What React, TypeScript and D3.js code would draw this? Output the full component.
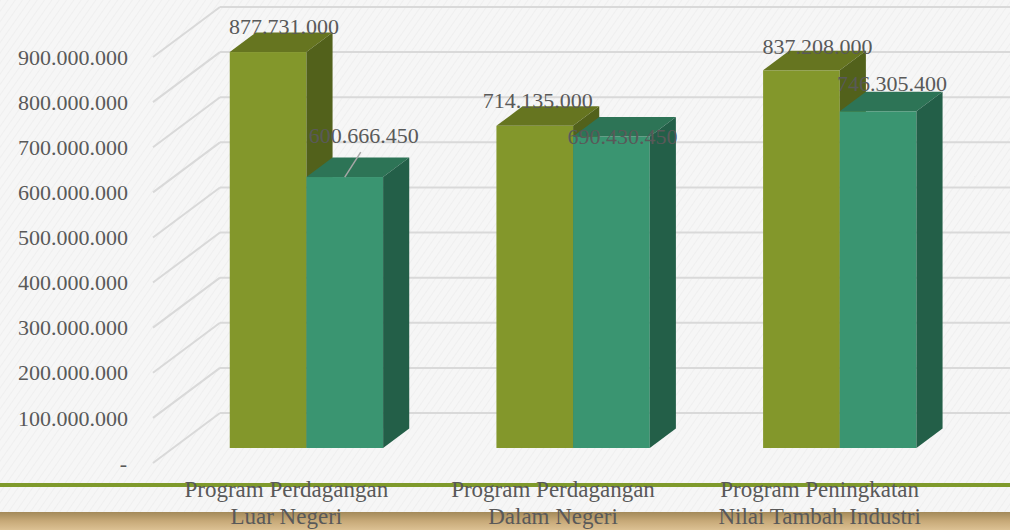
import React from 'react';
import * as d3 from 'd3';

// chart values
const categories = [
  ['Program Perdagangan', 'Luar Negeri'],
  ['Program Perdagangan', 'Dalam Negeri'],
  ['Program Peningkatan', 'Nilai Tambah Industri'],
];
const seriesA = [877731000, 714135000, 837208000];
const seriesB = [600666450, 690430450, 746305400];
const yTicks = [0, 100000000, 200000000, 300000000, 400000000, 500000000, 600000000, 700000000, 800000000, 900000000];

// manual label nudges (dx, dy from bar front centre / top), like the source chart
const nudgeA = [[16, -26], [3, -26], [16, -24]];
const nudgeB = [[19, -42], [11, 0], [14, -28]];

const W = 1010;
const H = 530;
const depth = { x: 67, y: -50 }; // floor depth
const barFront = 0.3; // bars sit at 30%..69% of depth
const barBack = 0.69;

const fmt = (v: number) => (v === 0 ? '-' : d3.format(',')(v).replace(/,/g, '.'));

const App = () => {
  const x = d3.scaleBand().domain(categories.map((c) => c.join(' '))).range([153, 953]).padding(0);
  const y = d3.scaleLinear().domain([0, 900000000]).range([463, 57]);

  const bw = x.bandwidth() * 0.2875; // single bar width
  const f0 = { x: depth.x * barFront, y: depth.y * barFront };
  const dd = { x: depth.x * (barBack - barFront), y: depth.y * (barBack - barFront) };

  const textColor = '#595959';
  const font = "'Liberation Serif', 'Times New Roman', serif";

  const bars: any[] = [];
  const labels: any[] = [];
  categories.forEach((c, i) => {
    const key = c.join(' ');
    const center = (x(key) as number) + x.bandwidth() / 2 + f0.x;
    [
      { v: seriesA[i], n: nudgeA[i], front: '#83972b', top: '#667520', side: '#52611b', x0: center - bw },
      { v: seriesB[i], n: nudgeB[i], front: '#3a9571', top: '#2d7456', side: '#235f48', x0: center },
    ].forEach((b, j) => {
      const x0 = b.x0;
      const x1 = x0 + bw;
      const yt = y(b.v) + f0.y;
      const yb = y(0) + f0.y;
      bars.push(
        <g key={`b${i}-${j}`}>
          <rect x={x0} y={yt} width={bw} height={yb - yt} fill={b.front} />
          <polygon
            points={`${x0},${yt} ${x1},${yt} ${x1 + dd.x},${yt + dd.y} ${x0 + dd.x},${yt + dd.y}`}
            fill={b.top}
          />
          <polygon
            points={`${x1},${yt} ${x1 + dd.x},${yt + dd.y} ${x1 + dd.x},${yb + dd.y} ${x1},${yb}`}
            fill={b.side}
          />
        </g>
      );
      const lx = x0 + bw / 2 + b.n[0];
      const ly = yt + b.n[1];
      if (b.n[1] < -35) {
        labels.push(
          <line key={`l${i}-${j}`} x1={x0 + bw / 2} y1={yt} x2={lx - 3} y2={ly + 17} stroke="#a6a6a6" strokeWidth={1.5} />
        );
      }
      labels.push(
        <text key={`t${i}-${j}`} x={lx} y={ly} dy="0.35em" textAnchor="middle" fontSize={22} fill={textColor} fontFamily={font}>
          {fmt(b.v)}
        </text>
      );
    });
  });

  return (
    <svg width={W} height={H} style={{ position: 'absolute', left: 0, top: 0 }}>
      <defs>
        <pattern id="tex" width="6" height="6" patternUnits="userSpaceOnUse" patternTransform="rotate(35)">
          <rect width="6" height="6" fill="#f6f6f6" />
          <line x1="0" y1="0" x2="0" y2="6" stroke="#efefef" strokeWidth="2" />
        </pattern>
        <linearGradient id="wood" x1="0" y1="0" x2="0" y2="1">
          <stop offset="0" stopColor="#a38a5a" />
          <stop offset="0.5" stopColor="#c7a978" />
          <stop offset="1" stopColor="#dcc193" />
        </linearGradient>
      </defs>
      <rect width={W} height={H} fill="url(#tex)" />

      {/* gridlines: side wall diagonals + back wall */}
      {yTicks.map((t) => (
        <g key={`g${t}`} stroke="#d9d9d9" strokeWidth={2} fill="none">
          <line x1={153} y1={y(t)} x2={153 + depth.x} y2={y(t) + depth.y} />
          <line x1={153 + depth.x} y1={y(t) + depth.y} x2={W} y2={y(t) + depth.y} />
        </g>
      ))}

      {/* y-axis labels */}
      {yTicks.map((t) => (
        <text
          key={`y${t}`}
          x={t === 0 ? 127 : 128}
          y={y(t)}
          dy="0.35em"
          textAnchor="end"
          fontSize={22}
          fill={textColor}
          fontFamily={font}
        >
          {fmt(t)}
        </text>
      ))}

      {bars}
      {labels}

      <rect x={0} y={512} width={W} height={H - 512} fill="url(#wood)" />
      <line x1={0} x2={W} y1={485} y2={485} stroke="#7f9a2b" strokeWidth={4} />

      {/* category labels */}
      {categories.map((c) => (
        <text
          key={c.join(' ')}
          x={(x(c.join(' ')) as number) + x.bandwidth() / 2}
          y={497}
          textAnchor="middle"
          fontSize={23}
          fill={textColor}
          fontFamily={font}
        >
          {c.map((line, k) => (
            <tspan key={k} x={(x(c.join(' ')) as number) + x.bandwidth() / 2} dy={k === 0 ? 0 : 27}>
              {line}
            </tspan>
          ))}
        </text>
      ))}
    </svg>
  );
};

export default App;
